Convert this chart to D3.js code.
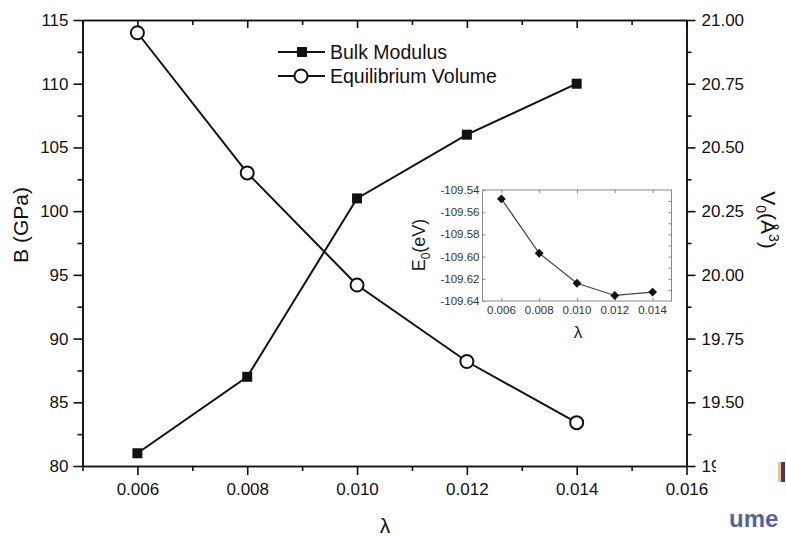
<!DOCTYPE html>
<html>
<head>
<meta charset="utf-8">
<script src="https://cdn.jsdelivr.net/npm/d3@7"></script>
<style>
  html, body { margin: 0; padding: 0; background: #fff; }
  svg { display: block; font-family: "Liberation Sans", Arial, sans-serif; }
</style>
</head>
<body>
<svg id="chart" width="786" height="536"></svg>
<script>
// λ values shared by both series
const lambda = [0.006, 0.008, 0.010, 0.012, 0.014];
// Bulk modulus B (GPa)
const bulkModulus = [81, 87, 101, 106, 110];
// Equilibrium volume V0 (Å^3)
const eqVolume = [20.95, 20.40, 19.96, 19.66, 19.42];
// Inset: equilibrium energy E0 (eV)
const energy = [-109.548, -109.597, -109.624, -109.635, -109.632];

const xTicks = [0.006, 0.008, 0.010, 0.012, 0.014, 0.016];
const bTicks = [80, 85, 90, 95, 100, 105, 110, 115];
const vTicks = [19.25, 19.50, 19.75, 20.00, 20.25, 20.50, 20.75, 21.00];
const insetXTicks = [0.006, 0.008, 0.010, 0.012, 0.014];
const insetYTicks = [-109.64, -109.62, -109.60, -109.58, -109.56, -109.54];

const svg = d3.select("#chart");
const hyphen = f => d => f(d).replace("\u2212", "-");

// ---------- main plot ----------
const pL = 82.5, pR = 686.5, pT = 20, pB = 466;
const x = d3.scaleLinear().domain([0.005, 0.016]).range([pL, pR]);
const yB = d3.scaleLinear().domain([80, 115]).range([pB, pT]);
const yV = d3.scaleLinear().domain([19.25, 21.0]).range([pB, pT]);
const minorX = [0.005, 0.007, 0.009, 0.011, 0.013, 0.015];

const tickFont = 17;
const mainAxes = svg.append("g");

// bottom axis
mainAxes.append("g").attr("transform", `translate(0,${pB})`)
  .call(d3.axisBottom(x).tickValues(xTicks).tickFormat(d3.format(".3f"))
        .tickSize(9).tickSizeOuter(0).tickPadding(8));
mainAxes.append("g").attr("transform", `translate(0,${pB})`)
  .call(d3.axisBottom(x).tickValues(minorX).tickFormat("")
        .tickSize(5).tickSizeOuter(0));

// top axis (ticks pointing into the plot)
mainAxes.append("g").attr("transform", `translate(0,${pT})`)
  .call(d3.axisBottom(x).tickValues(xTicks).tickFormat("").tickSize(8).tickSizeOuter(0));
mainAxes.append("g").attr("transform", `translate(0,${pT})`)
  .call(d3.axisBottom(x).tickValues(minorX).tickFormat("").tickSize(5).tickSizeOuter(0));

// left axis
mainAxes.append("g").attr("transform", `translate(${pL},0)`)
  .call(d3.axisLeft(yB).tickValues(bTicks).tickSize(9).tickSizeOuter(0).tickPadding(5));
mainAxes.append("g").attr("transform", `translate(${pL},0)`)
  .call(d3.axisLeft(yB).tickValues([82.5, 87.5, 92.5, 97.5, 102.5, 107.5, 112.5]).tickFormat("").tickSize(5).tickSizeOuter(0));

// right axis
mainAxes.append("g").attr("transform", `translate(${pR},0)`)
  .call(d3.axisRight(yV).tickValues(vTicks).tickFormat(d3.format(".2f"))
        .tickSize(9).tickSizeOuter(0).tickPadding(6));
mainAxes.append("g").attr("transform", `translate(${pR},0)`)
  .call(d3.axisRight(yV).tickValues([19.375, 19.625, 19.875, 20.125, 20.375, 20.625, 20.875]).tickFormat("").tickSize(5).tickSizeOuter(0));

mainAxes.selectAll(".tick text").attr("font-size", tickFont).attr("fill", "#111")
  .attr("font-family", "Liberation Sans, Arial, sans-serif");
mainAxes.selectAll(".domain, .tick line").attr("stroke", "#111").attr("stroke-width", 1.6);

// axis titles
svg.append("text").attr("x", 385).attr("y", 533).attr("text-anchor", "middle")
  .attr("font-size", 21).attr("fill", "#111").text("λ");
svg.append("text").attr("transform", "translate(28,225) rotate(-90)")
  .attr("text-anchor", "middle").attr("font-size", 21).attr("fill", "#111").text("B (GPa)");
const vLabel = svg.append("text").attr("transform", "translate(761,220) rotate(90)")
  .attr("text-anchor", "middle").attr("font-size", 21).attr("fill", "#111");
vLabel.append("tspan").text("V");
vLabel.append("tspan").attr("font-size", 14).attr("dy", 5).text("0");
vLabel.append("tspan").attr("dy", -5).text("(Å");
vLabel.append("tspan").attr("font-size", 14).attr("dy", -8).text("3");
vLabel.append("tspan").attr("dy", 8).text(")");

// bulk modulus series
const lineB = d3.line().x((d, i) => x(lambda[i])).y(d => yB(d));
svg.append("path").datum(bulkModulus).attr("d", lineB)
  .attr("fill", "none").attr("stroke", "#111").attr("stroke-width", 2);
svg.selectAll(".sqB").data(bulkModulus).enter().append("rect")
  .attr("x", (d, i) => x(lambda[i]) - 5).attr("y", d => yB(d) - 5)
  .attr("width", 10).attr("height", 10).attr("fill", "#111");

// equilibrium volume series
const lineV = d3.line().x((d, i) => x(lambda[i])).y(d => yV(d));
svg.append("path").datum(eqVolume).attr("d", lineV)
  .attr("fill", "none").attr("stroke", "#111").attr("stroke-width", 2);
svg.selectAll(".cV").data(eqVolume).enter().append("circle")
  .attr("cx", (d, i) => x(lambda[i])).attr("cy", d => yV(d)).attr("r", 6.5)
  .attr("fill", "#fff").attr("stroke", "#111").attr("stroke-width", 2);

// legend
const lg = svg.append("g");
lg.append("line").attr("x1", 278).attr("x2", 325).attr("y1", 52).attr("y2", 52)
  .attr("stroke", "#111").attr("stroke-width", 2);
lg.append("rect").attr("x", 297).attr("y", 47).attr("width", 10).attr("height", 10).attr("fill", "#111");
lg.append("text").attr("x", 330).attr("y", 59).attr("font-size", 19.5).attr("fill", "#111").text("Bulk Modulus");
lg.append("line").attr("x1", 278).attr("x2", 325).attr("y1", 76).attr("y2", 76)
  .attr("stroke", "#111").attr("stroke-width", 2);
lg.append("circle").attr("cx", 301).attr("cy", 76).attr("r", 6.5)
  .attr("fill", "#fff").attr("stroke", "#111").attr("stroke-width", 2);
lg.append("text").attr("x", 330).attr("y", 83).attr("font-size", 19.5).attr("fill", "#111").text("Equilibrium Volume");

// ---------- inset ----------
const iL = 482.5, iR = 671.5, iT = 190, iB = 301;
const ix = d3.scaleLinear().domain([0.005, 0.015]).range([iL, iR]);
const iy = d3.scaleLinear().domain([-109.64, -109.54]).range([iB, iT]);
const inset = svg.append("g");
inset.append("rect").attr("x", iL).attr("y", iT).attr("width", iR - iL).attr("height", iB - iT)
  .attr("fill", "#fff").attr("stroke", "#888").attr("stroke-width", 1);

const insetAxes = inset.append("g");
insetAxes.append("g").attr("transform", `translate(0,${iB})`)
  .call(d3.axisTop(ix).tickValues(insetXTicks).tickFormat("").tickSize(3).tickSizeOuter(0));
insetAxes.append("g").attr("transform", `translate(0,${iT})`)
  .call(d3.axisBottom(ix).tickValues(insetXTicks).tickFormat("").tickSize(3).tickSizeOuter(0));
insetAxes.append("g").attr("transform", `translate(${iL},0)`)
  .call(d3.axisRight(iy).tickValues(insetYTicks).tickFormat("").tickSize(3).tickSizeOuter(0));
insetAxes.append("g").attr("transform", `translate(${iR},0)`)
  .call(d3.axisLeft(iy).tickValues([-109.63, -109.62, -109.61, -109.60, -109.59, -109.58, -109.57, -109.56, -109.55]).tickFormat("").tickSize(3).tickSizeOuter(0));
insetAxes.selectAll(".domain").remove();
insetAxes.selectAll(".tick line").attr("stroke", "#888").attr("stroke-width", 1);

// inset tick labels
inset.selectAll(".ixl").data(insetXTicks).enter().append("text")
  .attr("x", d => ix(d)).attr("y", 314).attr("text-anchor", "middle")
  .attr("font-size", 11.5).attr("fill", "#333").text(d3.format(".3f"));
inset.selectAll(".iyl").data(insetYTicks).enter().append("text")
  .attr("x", iL - 3).attr("y", d => iy(d) + 4).attr("text-anchor", "end")
  .attr("font-size", 11.5).attr("fill", "#333").text(hyphen(d3.format(".2f")));

inset.append("text").attr("x", 578).attr("y", 338).attr("text-anchor", "middle")
  .attr("font-size", 17).attr("fill", "#222").text("λ");
const eLabel = inset.append("text").attr("transform", "translate(425,245) rotate(-90)")
  .attr("text-anchor", "middle").attr("font-size", 18).attr("fill", "#222");
eLabel.append("tspan").text("E");
eLabel.append("tspan").attr("font-size", 12).attr("dy", 5).text("0");
eLabel.append("tspan").attr("dy", -5).text("(eV)");

const lineE = d3.line().x((d, i) => ix(lambda[i])).y(d => iy(d));
inset.append("path").datum(energy).attr("d", lineE)
  .attr("fill", "none").attr("stroke", "#444").attr("stroke-width", 1.2);
inset.selectAll(".dE").data(energy).enter().append("path")
  .attr("transform", (d, i) => `translate(${ix(lambda[i])},${iy(d)})`)
  .attr("d", d3.symbol().type(d3.symbolDiamond2).size(50))
  .attr("fill", "#111");

// ---------- clipped corner at the lower right ----------
svg.append("rect").attr("x", 716).attr("y", 455).attr("width", 70).attr("height", 81).attr("fill", "#fff");
svg.append("rect").attr("x", 778).attr("y", 462).attr("width", 3).attr("height", 20).attr("fill", "#e8c890");
svg.append("rect").attr("x", 781).attr("y", 462).attr("width", 4).attr("height", 20).attr("fill", "#5a2a78");
svg.append("text").attr("x", 729).attr("y", 527).attr("font-size", 24).attr("font-weight", "bold")
  .attr("fill", "#3a4a8a").attr("opacity", 0.85).text("ume");
</script>
</body>
</html>
